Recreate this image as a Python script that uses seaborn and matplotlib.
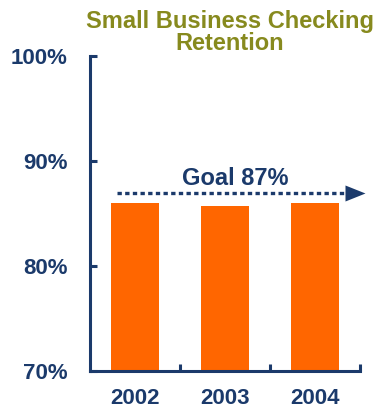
import matplotlib
matplotlib.use("Agg")
import matplotlib.pyplot as plt
import seaborn as sns
import pandas as pd

# Retention rates by year
years = ["2002", "2003", "2004"]
retention = [86.0, 85.7, 86.0]
goal = 87.0
goal_label = "Goal 87%"
title_lines = ["Small Business Checking", "Retention"]
y_ticks = [70, 80, 90, 100]
y_tick_labels = ["70%", "80%", "90%", "100%"]

NAVY = "#1b3a6b"
ORANGE = "#ff6600"
OLIVE = "#878a1e"

sns.set_theme(style="white")
plt.rcParams["font.family"] = ["Liberation Sans", "DejaVu Sans"]
plt.rcParams["font.weight"] = "bold"

df = pd.DataFrame({"year": years, "retention": retention})

fig = plt.figure(figsize=(3.85, 4.16), dpi=100)
ax = fig.add_axes([90 / 385, 45 / 416, 270 / 385, 315 / 416])

sns.barplot(data=df, x="year", y="retention", color=ORANGE, saturation=1,
            width=0.54, ax=ax, edgecolor="none")

ax.set_ylim(70, 100)
ax.set_xlim(-0.5, 2.5)
ax.set_xlabel("")
ax.set_ylabel("")

ax.set_yticks(y_ticks)
ax.set_yticklabels(y_tick_labels)
ax.set_xticks([0, 1, 2])
ax.set_xticks([0.5, 1.5, 2.5], minor=True)

for side in ["top", "right"]:
    ax.spines[side].set_visible(False)
for side in ["left", "bottom"]:
    ax.spines[side].set_color(NAVY)
    ax.spines[side].set_linewidth(2.2)

ax.tick_params(axis="y", direction="in", length=5, width=2.2, color=NAVY,
               labelcolor=NAVY, labelsize=16, pad=16, left=True)
ax.tick_params(axis="x", which="major", length=0, labelcolor=NAVY,
               labelsize=16, pad=12)
ax.tick_params(axis="x", which="minor", direction="in", length=5, width=2.2,
               color=NAVY, bottom=True)
for lbl in ax.get_xticklabels() + ax.get_yticklabels():
    lbl.set_fontweight("bold")

# Goal line: dotted shaft plus a triangular head
ax.plot([-0.2, 2.34], [goal, goal], color=NAVY, linewidth=2.4,
        linestyle=(0, (1.3, 1.0)), clip_on=False, dash_capstyle="butt")
head = [(-10, -8), (10, 0), (-10, 8), (-10, -8)]
ax.plot([2.444], [goal], marker=head, markersize=14.4, color=NAVY,
        markeredgewidth=0, clip_on=False)
ax.text(1.11, goal + 0.75, goal_label, ha="center", va="baseline",
        color=NAVY, fontsize=17, fontweight="bold")

for line, base in zip(title_lines, [28, 50]):
    fig.text(230 / 385, 1 - base / 416, line, ha="center", va="baseline",
             color=OLIVE, fontsize=17, fontweight="bold")

fig.savefig("out.png", dpi=100)
